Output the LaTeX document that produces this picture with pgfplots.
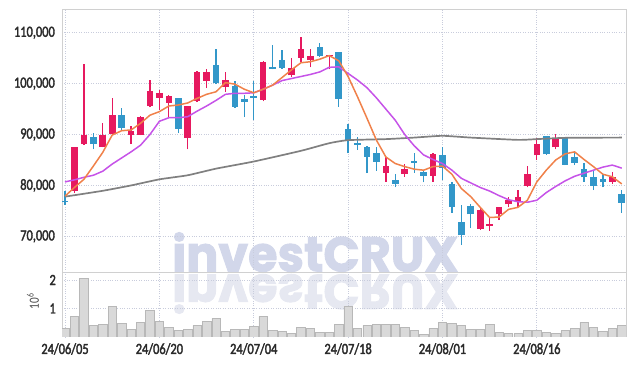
\documentclass[border=0pt]{standalone}
\usepackage{pgfplots}
\pgfplotsset{compat=1.18}
\usepackage{pgfplotstable}
\usepackage{fontspec}
\setmainfont{Carlito}
\newfontfamily\tickfont[FakeStretch=0.8,FakeBold=2.2]{Carlito}
\newfontfamily\labfont[FakeStretch=0.8]{Carlito}
\newfontfamily\wmfont[FakeBold=2]{Poppins}
\definecolor{cup}{HTML}{E6195F}
\definecolor{cdown}{HTML}{3297C9}
\definecolor{ma5}{HTML}{F0814A}
\definecolor{ma20}{HTML}{C653E8}
\definecolor{ma60}{HTML}{808080}
\definecolor{gridc}{HTML}{C8CCDC}
\definecolor{framec}{HTML}{D0D0D0}
\definecolor{volfill}{HTML}{D9D9D9}
\definecolor{voledge}{HTML}{B8B8B8}
\definecolor{wm}{HTML}{D2D7EA}
\definecolor{wmr}{HTML}{E6E8F1}
\definecolor{labc}{HTML}{2A2A2A}

\pgfplotstableread{
i o h l c
1 78900 87600 78600 87600
2 88100 103800 88000 89900
4 87600 92200 87500 89900
5 90100 97100 90000 93800
7 89900 91700 88100 90700
8 90000 93700 89900 93400
9 95600 100800 95400 98500
10 97200 98700 94800 98200
11 96200 97700 93400 97600
13 89300 95700 87100 95600
14 96600 102400 96400 102300
15 100600 102900 99100 102300
17 99400 102200 98400 100700
21 96800 104500 96500 104200
24 101600 105000 101400 103000
25 105100 109100 104200 106800
26 104600 106900 103200 105400
28 105400 105700 102800 105600
34 82500 85600 80700 83800
36 82200 84300 81700 83300
39 81900 86300 80700 86200
44 71400 75700 71300 75200
45 72100 73800 71100 72200
46 74300 75800 73200 75700
47 76300 77800 75700 77100
48 76700 79200 75700 77800
49 79900 83800 79600 82200
50 85900 89400 85000 88100
52 87500 90100 87100 89200
58 80700 82600 80300 81600
}\updata

\pgfplotstableread{
i o h l c
0 77000 79000 76200 76700
3 89500 90400 87100 88100
6 93800 95300 90800 91300
12 97100 97200 90400 91100
16 103700 106800 99900 100100
18 99500 100600 95300 95500
19 97000 97800 93400 96400
20 97400 100500 92800 97200
22 103100 107600 102800 102900
23 104600 106700 102900 103100
27 107100 107900 105200 105400
29 106200 106300 95500 97000
30 91100 92000 86300 88900
31 88200 89600 87000 88000
32 87600 87700 82400 85600
33 86400 87500 82900 84700
35 81000 82200 79600 80300
37 84700 86400 82500 84500
38 82600 83000 80600 81900
40 86000 87500 81000 83400
41 80300 80700 74600 75800
42 72900 76100 68300 70200
43 76000 76300 71600 74300
51 89700 89800 86000 86100
53 89300 89600 84000 84100
54 85500 86800 84000 84500
55 83200 84500 80700 81600
56 81600 82900 79100 79900
57 81300 82200 79600 80600
59 78400 79100 74600 76600
}\downdata

\pgfplotstableread{
i v
0 77900
1 79600
2 81200
3 83800
4 86500
5 89900
6 90750
7 90900
8 92200
9 93800
10 94500
11 95600
12 95800
13 96200
14 97100
15 97900
16 98400
17 100200
18 99900
19 98900
20 98200
21 98900
22 99700
23 101200
24 102700
25 104100
26 104300
27 104800
28 105500
29 104500
30 101400
31 97400
32 93200
33 88900
34 85600
35 84300
36 83700
37 83200
38 83000
39 83700
40 83800
41 82200
42 79400
43 77800
44 75700
45 73700
46 73800
47 75300
48 75700
49 77100
50 80700
51 83000
52 85000
53 86200
54 86600
55 85100
56 83700
57 82200
58 81700
59 80300
}\mafive

\pgfplotstableread{
i v
0 80700
1 81100
2 81600
3 82000
4 82800
5 84200
6 85400
7 86600
8 87900
9 90000
10 92600
11 93300
12 93300
13 93500
14 94600
15 95600
16 96700
17 97900
18 98100
19 98100
20 98200
21 98900
22 99700
23 100600
24 101000
25 101400
26 101800
27 102300
28 103200
29 103300
30 102000
31 100700
32 99200
33 97200
34 95000
35 92800
36 90000
37 87800
38 86000
39 85100
40 84300
41 83000
42 81400
43 80500
44 79600
45 78900
46 78000
47 77200
48 76800
49 76700
50 77100
51 78600
52 79800
53 80900
54 81800
55 82400
56 83000
57 83600
58 84000
59 83400
}\matwenty

\pgfplotstableread{
i v
0 77800
4 78950
7 80000
10 81200
13 82000
16 83300
20 84700
25 86800
28 88300
30 88900
34 89100
37 89400
40 89750
43 89400
48 88950
50 89100
53 89350
59 89400
}\masixty

\pgfplotstableread{
i v
0 0.29
1 0.73
2 2.06
3 0.41
4 0.45
5 1.08
6 0.47
7 0.26
8 0.51
9 0.94
10 0.54
11 0.33
12 0.22
13 0.26
14 0.40
15 0.54
16 0.65
17 0.19
18 0.26
19 0.26
20 0.38
21 0.72
22 0.22
23 0.19
24 0.12
25 0.33
26 0.29
27 0.15
28 0.15
29 0.45
30 1.08
31 0.29
32 0.41
33 0.45
34 0.45
35 0.45
36 0.34
37 0.22
38 0.08
39 0.29
40 0.52
41 0.48
42 0.41
43 0.26
44 0.26
45 0.45
46 0.15
47 0.12
48 0.12
49 0.22
50 0.22
51 0.15
52 0.12
53 0.22
54 0.29
55 0.52
56 0.33
57 0.19
58 0.29
59 0.41
}\voldata

\begin{document}
\begin{tikzpicture}[x=1pt,y=1pt]
\useasboundingbox (0,0) rectangle (634,366);
% watermark
\node[anchor=south west, inner sep=0pt] at (172,94) {\textcolor{wm}{\resizebox{286pt}{39pt}{\wmfont\bfseries investCRUX}}};
\node[anchor=north west, inner sep=0pt] at (172,92) {\textcolor{wmr}{\scalebox{1}[-1]{\resizebox{286pt}{39pt}{\wmfont\bfseries investCRUX}}}};

\begin{axis}[
  at={(62pt,94pt)}, anchor=south west, scale only axis,
  width=564pt, height=263pt,
  xmin=-0.32, xmax=59.45, ymin=63000, ymax=114660,
  scaled y ticks=false,
  xtick={0,10,20,30,40,50}, xticklabels={},
  ytick={70000,80000,90000,100000,110000},
  yticklabels={{70,000},{80,000},{90,000},{100,000},{110,000}},
  yticklabel style={font=\fontsize{15.5}{15.5}\tickfont, text=labc, inner sep=0pt, xshift=-7pt},
  major tick length=0pt,
  grid=major,
  major grid style={dotted, draw=gridc, line width=0.8pt},
  axis line style={draw=framec, line width=0.8pt},
  clip=true,
]
\addplot[draw=none, no markers, forget plot,
  error bars/.cd, y dir=plus, y explicit, error mark=none,
  error bar style={draw=cup, line width=1.3pt}]
  table[x=i, y=l, y error expr=\thisrow{h}-\thisrow{l}] {\updata};
\addplot[draw=none, no markers, forget plot,
  error bars/.cd, y dir=plus, y explicit, error mark=none,
  error bar style={draw=cup, line width=6.6pt}]
  table[x=i, y=o, y error expr={max(\thisrow{c}-\thisrow{o},300)}] {\updata};
\addplot[draw=none, no markers, forget plot,
  error bars/.cd, y dir=plus, y explicit, error mark=none,
  error bar style={draw=cdown, line width=1.3pt}]
  table[x=i, y=l, y error expr=\thisrow{h}-\thisrow{l}] {\downdata};
\addplot[draw=none, no markers, forget plot,
  error bars/.cd, y dir=plus, y explicit, error mark=none,
  error bar style={draw=cdown, line width=6.6pt}]
  table[x=i, y=c, y error expr={max(\thisrow{o}-\thisrow{c},300)}] {\downdata};
\addplot[ma60, line width=1.7pt, no markers, smooth, tension=0.3] table[x=i, y=v] {\masixty};
\addplot[ma20, line width=1.5pt, no markers] table[x=i, y=v] {\matwenty};
\addplot[ma5, line width=1.5pt, no markers] table[x=i, y=v] {\mafive};
\end{axis}

\begin{axis}[
  at={(62pt,29pt)}, anchor=south west, scale only axis,
  width=564pt, height=65pt,
  xmin=-0.32, xmax=59.45, ymin=0, ymax=2.28,
  xtick={0,10,20,30,40,50},
  xticklabels={24/06/05,24/06/20,24/07/04,24/07/18,24/08/01,24/08/16},
  xticklabel style={font=\fontsize{15.5}{15.5}\tickfont, text=labc, inner sep=0pt, yshift=-6pt},
  ytick={1,2}, yticklabels={1,2},
  yticklabel style={font=\fontsize{15.5}{15.5}\tickfont, text=labc, inner sep=0pt, xshift=-6pt},
  ylabel={10\textsuperscript{6}},
  ylabel style={at={(axis description cs:-0.0514,0.55)}, anchor=center, font=\fontsize{14}{14}\labfont, text=black!70},
  major tick length=0pt,
  grid=major,
  major grid style={dotted, draw=gridc, line width=0.8pt},
  separate axis lines,
  x axis line style={draw=none},
  y axis line style={draw=framec, line width=0.8pt},
]
\addplot[ybar, bar width=8.4pt, bar shift=0pt, fill=volfill, draw=voledge, line width=0.5pt] table[x=i, y=v] {\voldata};
\end{axis}
\end{tikzpicture}
\end{document}
